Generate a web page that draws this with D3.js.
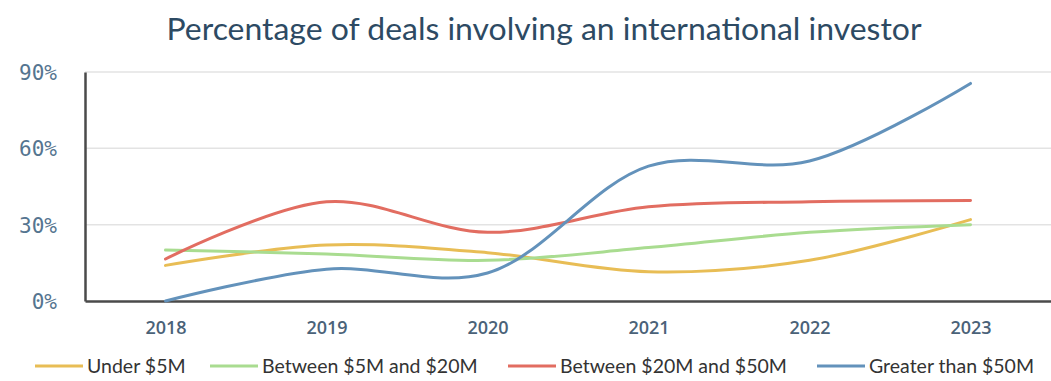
<!DOCTYPE html>
<html>
<head>
<meta charset="utf-8">
<script src="https://cdn.jsdelivr.net/npm/d3@7"></script>
<style>
  body { margin: 0; background: #fff; }
  svg { display: block; }
</style>
</head>
<body>
<svg id="chart"></svg>
<script>
// Data
const years = ['2018', '2019', '2020', '2021', '2022', '2023'];
const seriesNames = ['Under $5M', 'Between $5M and $20M', 'Between $20M and $50M', 'Greater than $50M'];
const under5 = [14, 22, 19, 11.5, 16, 32];
const between5and20 = [20, 18.5, 16, 21, 27, 30];
const between20and50 = [16.5, 39, 27, 37, 39, 39.5];
const greater50 = [0, 12.5, 11, 53, 55, 85.5];
const yTicks = [0, 30, 60, 90];
const colors = ['#e8bd55', '#a9dc90', '#e26d61', '#6392bb'];

const W = 1051, H = 381;
const margin = {top: 72, right: 0, bottom: 80, left: 85};
const width = W - margin.left - margin.right;
const height = 301 - margin.top;

const svg = d3.select('#chart').attr('width', W).attr('height', H);

// Title
const title = svg.append('text')
    .attr('x', 544)
    .attr('y', 40)
    .attr('text-anchor', 'middle')
    .attr('fill', '#2d4a63')
    .style('font-family', 'Lato, sans-serif')
    .style('font-size', '31px')
    .text('Percentage of deals involving an international investor');
// squeeze the title to the width it has in the picture
const tw = title.node().getComputedTextLength();
if (tw > 0) title.attr('textLength', 755).attr('lengthAdjust', 'spacingAndGlyphs');

const chart = svg.append('g')
    .attr('transform', `translate(${margin.left},${margin.top})`);

const xScale = d3.scalePoint()
    .domain(years)
    .range([0, width])
    .padding(0.5);

const yScale = d3.scaleLinear()
    .domain([0, 90])
    .range([height, 0]);

// Gridlines
chart.append('g')
    .selectAll('line')
    .data(yTicks.filter(d => d > 0))
  .join('line')
    .attr('x1', 0)
    .attr('x2', width)
    .attr('y1', d => yScale(d))
    .attr('y2', d => yScale(d))
    .attr('stroke', '#e3e3e3')
    .attr('stroke-width', 1.5);

// Y axis
const yAxis = d3.axisLeft(yScale).tickValues(yTicks).tickSize(0).tickPadding(28).tickFormat(d => d + '%');
chart.append('g')
    .call(yAxis)
    .call(g => g.select('.domain').attr('stroke', '#4a4a4a').attr('stroke-width', 2.5))
    .call(g => g.selectAll('text')
        .attr('fill', '#557590')
        .attr('dy', '0.35em')
        .style('font-family', '"DejaVu Sans Mono", monospace')
        .style('font-size', '21px'));

// X axis
const xAxis = d3.axisBottom(xScale).tickSize(0).tickPadding(20);
chart.append('g')
    .attr('transform', `translate(0,${height})`)
    .call(xAxis)
    .call(g => g.select('.domain').attr('stroke', '#4a4a4a').attr('stroke-width', 2.5))
    .call(g => g.selectAll('text')
        .attr('fill', '#4a6278')
        .style('font-family', '"Open Sans", sans-serif')
        .style('font-weight', '600')
        .style('font-size', '18px'));

// Lines
const allSeries = [under5, between5and20, between20and50, greater50];
const line = d3.line()
    .x((d, i) => xScale(years[i]))
    .y(d => yScale(d))
    .curve(d3.curveCatmullRom.alpha(0.5));

chart.append('g')
    .selectAll('path')
    .data(allSeries)
  .join('path')
    .attr('d', d => line(d))
    .attr('fill', 'none')
    .attr('stroke', (d, i) => colors[i])
    .attr('stroke-width', 3)
    .attr('stroke-linecap', 'round');

// Legend
const legendX = [35, 210, 508, 817];
const legend = svg.append('g').attr('transform', 'translate(0,366)');
const items = legend.selectAll('g')
    .data(seriesNames)
  .join('g')
    .attr('transform', (d, i) => `translate(${legendX[i]},0)`);
items.append('line')
    .attr('x1', 0).attr('x2', 48)
    .attr('stroke', (d, i) => colors[i])
    .attr('stroke-width', 3);
items.append('text')
    .attr('x', 52)
    .attr('dy', '0.35em')
    .attr('fill', '#333')
    .style('font-family', 'Lato, sans-serif')
    .style('font-size', '19.5px')
    .text(d => d);
</script>
</body>
</html>
